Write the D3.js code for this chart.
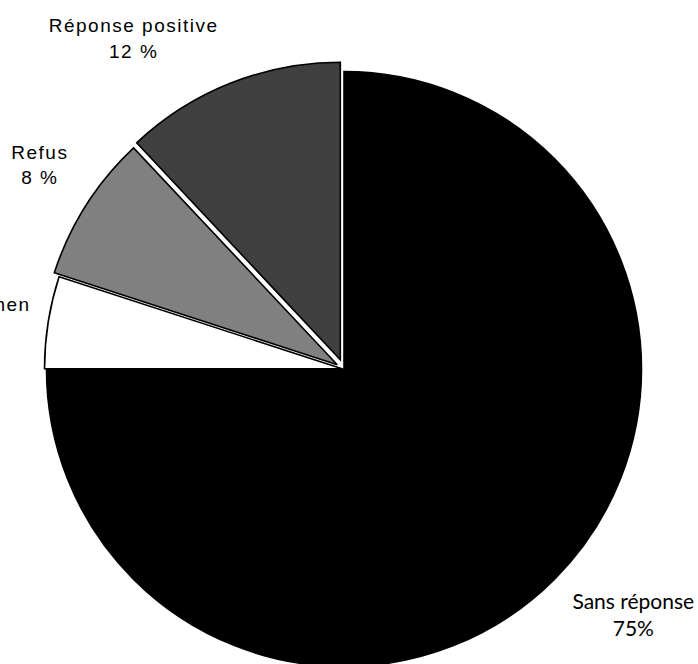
<!DOCTYPE html>
<html>
<head>
<meta charset="utf-8">
<script src="https://cdn.jsdelivr.net/npm/d3@7"></script>
<style>
  html, body { margin: 0; padding: 0; background: #fff; overflow: hidden; }
  svg { display: block; }
</style>
</head>
<body>
<svg id="chart" width="698" height="664"></svg>
<script>
// ---- data ----
const categories = ["Sans réponse", "Renvoi vers Cohen", "Refus", "Réponse positive"];
const values = [75, 5, 8, 12];
const valueLabels = ["75%", "5 %", "8 %", "12 %"];

// ---- layout / style ----
const W = 698, H = 664;
const cx = 344, cy = 369, R = 297.5;
const colors = ["#000000", "#ffffff", "#808080", "#404040"];
const explode = [0, 2, 8, 10];
// label placement: angle shift (deg) from slice bisector, radius from centre
const labelShift = [-5.3, -0.89, 2.2, -10.4];
const labelRadius = [376, 411, 369.5, 397];
const labelStyle = [
  { font: "Lato, 'Open Sans', sans-serif", size: 21, ls: 0, gap: 27 },
  { font: "'Liberation Sans', Arial, sans-serif", size: 19, ls: 1.5, gap: 26 },
  { font: "'Liberation Sans', Arial, sans-serif", size: 19, ls: 1.5, gap: 25 },
  { font: "'Liberation Sans', Arial, sans-serif", size: 19, ls: 1.5, gap: 26 }
];

const svg = d3.select("#chart");
svg.append("rect").attr("width", W).attr("height", H).attr("fill", "#fff");

const pie = d3.pie().sort(null).value(d => d)(values);
const arc = d3.arc().innerRadius(0).outerRadius(R);

const g = svg.append("g").attr("transform", `translate(${cx},${cy})`);

g.selectAll("path.slice")
  .data(pie)
  .join("path")
  .attr("class", "slice")
  .attr("d", arc)
  .attr("transform", (d, i) => {
    const mid = (d.startAngle + d.endAngle) / 2;
    return `translate(${Math.sin(mid) * explode[i]},${-Math.cos(mid) * explode[i]})`;
  })
  .attr("fill", (d, i) => colors[i])
  .attr("stroke", "#000")
  .attr("stroke-width", 1.6)
  .attr("stroke-linejoin", "miter");

const labels = g.selectAll("g.lab")
  .data(pie)
  .join("g")
  .attr("class", "lab")
  .attr("transform", (d, i) => {
    const mid = (d.startAngle + d.endAngle) / 2 + labelShift[i] * Math.PI / 180;
    const r = labelRadius[i];
    return `translate(${Math.sin(mid) * r},${-Math.cos(mid) * r})`;
  });

labels.each(function(d, i) {
  const st = labelStyle[i];
  const t = d3.select(this).append("text")
    .attr("text-anchor", "middle")
    .attr("font-family", st.font)
    .attr("font-size", st.size)
    .attr("letter-spacing", st.ls)
    .attr("fill", "#000");
  t.append("tspan").attr("x", 0).attr("y", 0).text(categories[i]);
  t.append("tspan").attr("x", 0).attr("y", st.gap).text(valueLabels[i]);
});
</script>
</body>
</html>
